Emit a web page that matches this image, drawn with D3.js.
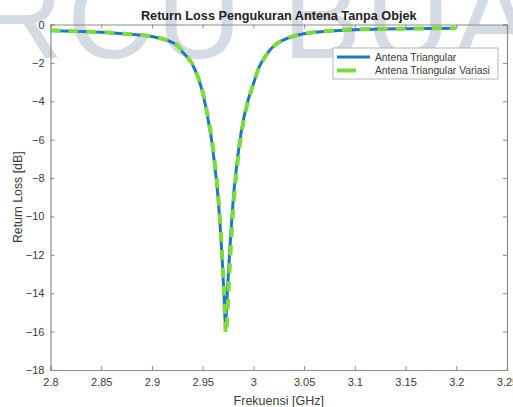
<!DOCTYPE html>
<html><head><meta charset="utf-8">
<script src="https://cdn.jsdelivr.net/npm/d3@7"></script>
<style>html,body{margin:0;padding:0;background:#fff;overflow:hidden}</style>
</head><body>
<svg id="c" width="513" height="407"></svg>
<script>
// ---- data ----
const freqBlue = [2.800,2.825,2.850,2.875,2.900,2.910,2.920,2.925,2.930,2.935,2.940,2.945,2.950,2.955,2.959,2.962,2.965,2.967,2.969,2.971,2.9725,2.974,2.976,2.978,2.980,2.983,2.986,2.990,2.995,3.000,3.005,3.010,3.015,3.020,3.030,3.040,3.050,3.075,3.100,3.125,3.150,3.175,3.200];
const rlBlue   = [-0.32,-0.36,-0.41,-0.50,-0.63,-0.75,-0.93,-1.10,-1.42,-1.72,-2.10,-2.70,-3.55,-4.85,-6.10,-7.40,-8.90,-10.30,-12.00,-14.10,-15.60,-14.30,-12.40,-10.70,-9.20,-7.60,-6.30,-5.00,-3.90,-3.10,-2.30,-1.80,-1.42,-1.12,-0.80,-0.60,-0.48,-0.34,-0.27,-0.24,-0.22,-0.21,-0.20];
const freqGreen = [2.800,2.825,2.850,2.875,2.900,2.910,2.920,2.925,2.930,2.935,2.940,2.945,2.950,2.955,2.959,2.962,2.965,2.967,2.969,2.971,2.973,2.975,2.977,2.979,2.981,2.984,2.987,2.991,2.996,3.000,3.005,3.010,3.015,3.020,3.030,3.040,3.050,3.075,3.100,3.125,3.150,3.175,3.200];
const rlGreen   = [-0.30,-0.35,-0.40,-0.49,-0.62,-0.74,-0.92,-1.08,-1.40,-1.70,-2.08,-2.68,-3.50,-4.75,-5.95,-7.20,-8.70,-10.10,-11.90,-14.00,-16.10,-14.40,-12.30,-10.50,-9.00,-7.40,-6.10,-4.85,-3.75,-3.10,-2.32,-1.82,-1.43,-1.13,-0.80,-0.60,-0.48,-0.33,-0.26,-0.23,-0.21,-0.20,-0.19];
const xTicks = [2.8,2.85,2.9,2.95,3,3.05,3.1,3.15,3.2,3.25];
const yTicks = [0,-2,-4,-6,-8,-10,-12,-14,-16,-18];
const seriesNames = ["Antena Triangular","Antena Triangular Variasi"];
const titleText = "Return Loss Pengukuran Antena Tanpa Objek";
const xLabel = "Frekuensi [GHz]";
const yLabel = "Return Loss [dB]";
const watermark = "RCU BUA";

// ---- layout ----
const L = 50.5, R = 507, T = 24.5, B = 370;
const x = d3.scaleLinear().domain([2.8,3.25]).range([L,R]);
const y = d3.scaleLinear().domain([-18,0]).range([B,T]);
const svg = d3.select("#c");
const font = "'Liberation Sans', Arial, Helvetica, sans-serif";
const blue = "#1f77c4", green = "#7ddc3a", axisCol = "#8c8c8c", txtCol = "#3a3a3a";

// watermark
svg.append("text").attr("x", -22).attr("y", 58)
  .attr("font-family", font).attr("font-size", 118).attr("fill", "#c3ccd8")
  .attr("opacity", 0.7).attr("letter-spacing", 4).text(watermark);

// axes
const gx = svg.append("g").attr("transform", `translate(0,${B})`)
  .call(d3.axisBottom(x).tickValues(xTicks).tickSize(-4).tickPadding(8).tickFormat(d3.format("~g")));
const gxt = svg.append("g").attr("transform", `translate(0,${T})`)
  .call(d3.axisTop(x).tickValues(xTicks).tickSize(-4).tickFormat(""));
const gy = svg.append("g").attr("transform", `translate(${L},0)`)
  .call(d3.axisLeft(y).tickValues(yTicks).tickSize(-4).tickPadding(6).tickFormat(d3.format("~g")));
const gyr = svg.append("g").attr("transform", `translate(${R},0)`)
  .call(d3.axisRight(y).tickValues(yTicks).tickSize(-4).tickFormat(""));
[gx,gxt,gy,gyr].forEach(g=>{
  g.selectAll("path.domain").attr("stroke", axisCol).attr("stroke-width",1.2);
  g.selectAll(".tick line").attr("stroke", axisCol);
  g.selectAll("text").attr("font-family", font).attr("font-size", 11).attr("fill", txtCol);
});

// lines
const lineB = d3.line().x((d,i)=>x(freqBlue[i])).y(d=>y(d)).curve(d3.curveMonotoneX);
const lineG = d3.line().x((d,i)=>x(freqGreen[i])).y(d=>y(d)).curve(d3.curveMonotoneX);
svg.append("path").attr("d", lineB(rlBlue)).attr("fill","none").attr("stroke",blue)
  .attr("stroke-width",3).attr("stroke-linejoin","round");
svg.append("path").attr("d", lineG(rlGreen)).attr("fill","none").attr("stroke",green)
  .attr("stroke-width",4).attr("stroke-dasharray","10,8").attr("stroke-linejoin","round");

// title & labels
svg.append("text").attr("x",(L+R)/2).attr("y",19.5).attr("text-anchor","middle")
  .attr("font-family",font).attr("font-weight","bold").attr("font-size",12.7).attr("fill","#222").text(titleText);
svg.append("text").attr("x",(L+R)/2).attr("y",404.5).attr("text-anchor","middle")
  .attr("font-family",font).attr("font-size",12.5).attr("fill",txtCol).text(xLabel);
svg.append("text").attr("transform",`translate(22,${(T+B)/2}) rotate(-90)`).attr("text-anchor","middle")
  .attr("font-family",font).attr("font-size",12.3).attr("fill",txtCol).text(yLabel);

// legend
const lg = svg.append("g");
lg.append("rect").attr("x",333).attr("y",48).attr("width",165).attr("height",31)
  .attr("fill","#fff").attr("stroke","#b5b5b5").attr("stroke-width",1);
const colors = [blue, green];
seriesNames.forEach((n,i)=>{
  const yy = 57 + i*13.5;
  if (i===0) lg.append("line").attr("x1",337).attr("x2",370).attr("y1",yy).attr("y2",yy)
      .attr("stroke",colors[i]).attr("stroke-width",3);
  else lg.append("line").attr("x1",337).attr("x2",356).attr("y1",yy).attr("y2",yy)
      .attr("stroke",colors[i]).attr("stroke-width",4);
  lg.append("text").attr("x",375).attr("y",yy+3.7).attr("font-family",font)
    .attr("font-size",10.3).attr("fill",txtCol).text(n);
});
</script>
</body></html>
